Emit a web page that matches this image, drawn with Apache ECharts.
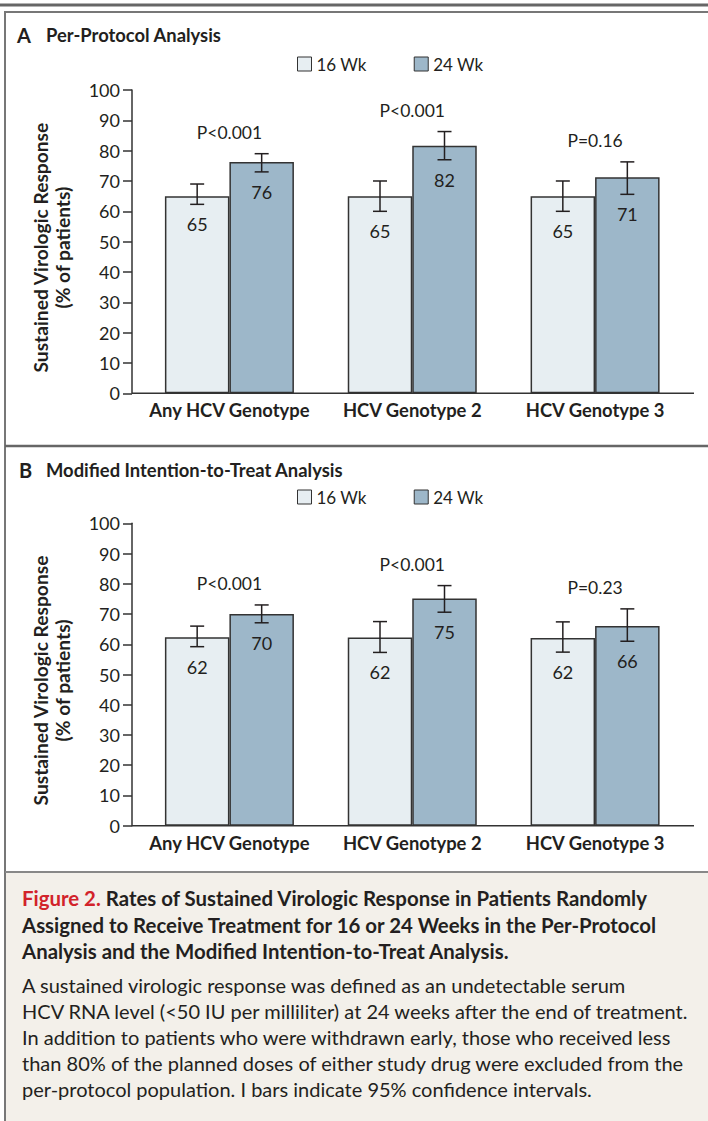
<!DOCTYPE html>
<html>
<head>
<meta charset="utf-8">
<script src="https://cdn.jsdelivr.net/npm/echarts@6/dist/echarts.min.js"></script>
<style>
html,body{margin:0;padding:0;background:#fff;}
#chart{width:708px;height:1121px;}
</style>
</head>
<body>
<div id="chart"></div>
<script>
// ---------- data ----------
const categories = ['Any HCV Genotype', 'HCV Genotype 2', 'HCV Genotype 3'];
const seriesNames = ['16 Wk', '24 Wk'];
const yTicks = [0, 100, 10]; // min, max, interval

// Panel A: per-protocol analysis
const ppWk16 = [65, 65, 65];
const ppWk24 = [76.3, 81.6, 71.2];
const ppLow16 = [62.3, 60, 60];
const ppHigh16 = [69, 70, 70];
const ppLow24 = [73, 77, 65.6];
const ppHigh24 = [79, 86.3, 76.3];
const ppPvals = ['P<0.001', 'P<0.001', 'P=0.16'];

// Panel B: modified intention-to-treat analysis
const mittWk16 = [62.3, 62.2, 62.1];
const mittWk24 = [70, 75.1, 66];
const mittLow16 = [59.2, 57.3, 57.4];
const mittHigh16 = [66, 67.5, 67.4];
const mittLow24 = [67.1, 70.6, 61];
const mittHigh24 = [73, 79.4, 71.7];
const mittPvals = ['P<0.001', 'P<0.001', 'P=0.23'];

const panelTitles = [['A', 'Per-Protocol Analysis'], ['B', 'Modified Intention-to-Treat Analysis']];
const yTitle = ['Sustained Virologic Response', '(% of patients)'];
const captionTitle = [
  ['Figure 2.', 'Rates of Sustained Virologic Response in Patients Randomly'],
  ['', 'Assigned to Receive Treatment for 16 or 24 Weeks in the Per-Protocol'],
  ['', 'Analysis and the Modified Intention-to-Treat Analysis.']
];
const captionBody = [
  'A sustained virologic response was defined as an undetectable serum',
  'HCV RNA level (<50 IU per milliliter) at 24 weeks after the end of treatment.',
  'In addition to patients who were withdrawn early, those who received less',
  'than 80% of the planned doses of either study drug were excluded from the',
  'per-protocol population. I bars indicate 95% confidence intervals.'
];

// ---------- styles ----------
const FONT = 'Lato, "Noto Sans", sans-serif';
const INK = '#231f20';
const AXIS = '#333333';
const C16 = '#e7eef2';
const C24 = '#9db7c9';
const BAR_W = 64.5;
const GRID_L = 138, GRID_W = 548.5;
const grids = [
  { left: GRID_L, top: 90, width: GRID_W, height: 303.3 },
  { left: GRID_L, top: 523.3, width: GRID_W, height: 302.4 }
];

const chart = echarts.init(document.getElementById('chart'), null, { renderer: 'svg' });

function annotSeries(g, v16, v24, lo16, hi16, lo24, hi24, pv) {
  return {
    type: 'custom', xAxisIndex: g, yAxisIndex: g, clip: false, silent: true, z: 10,
    data: categories.map((c, i) => [i, Math.max(hi16[i], hi24[i])]),
    renderItem: function (params, api) {
      const i = api.value(0);
      const kids = [];
      const sets = [[lo16, hi16, v16, -BAR_W / 2], [lo24, hi24, v24, BAR_W / 2]];
      sets.forEach(function (s) {
        const pH = api.coord([i, s[1][i]]);
        const pL = api.coord([i, s[0][i]]);
        const x = pH[0] + s[3];
        const ls = { stroke: INK, lineWidth: 1.5 };
        kids.push({ type: 'line', shape: { x1: x, y1: pH[1], x2: x, y2: pL[1] }, style: ls });
        kids.push({ type: 'line', shape: { x1: x - 7, y1: pH[1], x2: x + 7, y2: pH[1] }, style: ls });
        kids.push({ type: 'line', shape: { x1: x - 7, y1: pL[1], x2: x + 7, y2: pL[1] }, style: ls });
        kids.push({ type: 'text', style: { text: String(Math.round(s[2][i])), x: x, y: pL[1] + 20,
          align: 'center', verticalAlign: 'middle', fontSize: 18, fontFamily: FONT, fill: INK } });
      });
      const pt = api.coord([i, api.value(1)]);
      kids.push({ type: 'text', style: { text: pv[i], x: pt[0], y: pt[1] - 21,
        align: 'center', verticalAlign: 'middle', fontSize: 17.5, fontFamily: FONT, fill: INK } });
      return { type: 'group', children: kids };
    }
  };
}

function barSeries(g, name, vals, color) {
  return {
    type: 'bar', name: name, xAxisIndex: g, yAxisIndex: g, data: vals,
    barWidth: BAR_W, barGap: '0%',
    itemStyle: { color: color, borderColor: AXIS, borderWidth: 1.5 },
    emphasis: { disabled: true }
  };
}

const graphics = [];
// frame
graphics.push({ type: 'line', shape: { x1: 0, y1: 5, x2: 708, y2: 5 }, style: { stroke: '#666', lineWidth: 3 } });
graphics.push({ type: 'line', shape: { x1: 5, y1: 12, x2: 708, y2: 12 }, style: { stroke: '#777', lineWidth: 2 } });
graphics.push({ type: 'line', shape: { x1: 5, y1: 11, x2: 5, y2: 1121 }, style: { stroke: '#777', lineWidth: 2 } });
graphics.push({ type: 'line', shape: { x1: 5, y1: 446, x2: 708, y2: 446 }, style: { stroke: '#666', lineWidth: 2.5 } });
graphics.push({ type: 'rect', shape: { x: 6, y: 872, width: 702, height: 249 }, style: { fill: '#f3f0ea' } });
graphics.push({ type: 'line', shape: { x1: 5, y1: 872, x2: 708, y2: 872 }, style: { stroke: '#888', lineWidth: 2 } });

// panel titles
const titleY = [34.5, 470];
panelTitles.forEach(function (t, k) {
  graphics.push({ type: 'text', style: { text: t[0], x: k === 0 ? 17 : 19, y: titleY[k], verticalAlign: 'middle',
    fontSize: 20, fontWeight: 'bold', fontFamily: FONT, fill: INK } });
  graphics.push({ type: 'text', style: { text: t[1], x: 46, y: titleY[k], verticalAlign: 'middle',
    fontSize: 18.4, fontWeight: 'bold', fontFamily: FONT, fill: INK } });
});

// axis titles and baselines
grids.forEach(function (gr) {
  const cy = gr.top + gr.height / 2 + 6;
  graphics.push({ type: 'text', x: 40, y: cy, rotation: Math.PI / 2,
    style: { text: yTitle[0], x: 0, y: 0, align: 'center', verticalAlign: 'middle',
      fontSize: 19.2, fontWeight: 'bold', fontFamily: FONT, fill: INK } });
  graphics.push({ type: 'text', x: 62, y: cy, rotation: Math.PI / 2,
    style: { text: yTitle[1], x: 0, y: 0, align: 'center', verticalAlign: 'middle',
      fontSize: 19.2, fontWeight: 'bold', fontFamily: FONT, fill: INK } });
  const by = gr.top + gr.height;
  graphics.push({ type: 'line', z: 100, shape: { x1: GRID_L - 6, y1: by, x2: 694, y2: by },
    style: { stroke: AXIS, lineWidth: 1.5 } });
});

// caption
captionTitle.forEach(function (ln, k) {
  const y = 898 + k * 26.5;
  if (ln[0]) {
    graphics.push({ type: 'text', style: { text: '{r|' + ln[0] + '} {b|' + ln[1] + '}', x: 22, y: y, verticalAlign: 'middle',
      fontSize: 20.4, fontWeight: 'bold', fontFamily: FONT, fill: INK,
      rich: { r: { fill: '#d2232a', fontSize: 20.4, fontWeight: 'bold', fontFamily: FONT },
              b: { fill: INK, fontSize: 20.4, fontWeight: 'bold', fontFamily: FONT } } } });
  } else {
    graphics.push({ type: 'text', style: { text: ln[1], x: 22, y: y, verticalAlign: 'middle',
      fontSize: 20.4, fontWeight: 'bold', fontFamily: FONT, fill: INK } });
  }
});
captionBody.forEach(function (ln, k) {
  graphics.push({ type: 'text', style: { text: ln, x: 22, y: 985 + k * 26.1, verticalAlign: 'middle',
    fontSize: 20, fontFamily: FONT, fill: INK } });
});

const option = {
  animation: false,
  backgroundColor: '#ffffff',
  grid: grids,
  legend: [0, 1].map(function (k) {
    return {
      data: seriesNames, left: 297, top: (k === 0 ? 64 : 497) - 8.5, padding: 0,
      itemWidth: 14, itemHeight: 14, itemGap: 47, icon: 'rect', selectedMode: false,
      itemStyle: { borderColor: AXIS, borderWidth: 1 },
      textStyle: { fontSize: 17, fontFamily: FONT, color: INK }
    };
  }),
  xAxis: [0, 1].map(function (k) {
    return {
      type: 'category', gridIndex: k, data: categories,
      axisLine: { show: false }, axisTick: { show: false },
      axisLabel: { interval: 0, hideOverlap: false, margin: 8, fontSize: 18.4, fontWeight: 'bold', fontFamily: FONT, color: INK }
    };
  }),
  yAxis: [0, 1].map(function (k) {
    return {
      type: 'value', gridIndex: k, min: yTicks[0], max: yTicks[1], interval: yTicks[2], offset: 6,
      axisLine: { show: true, lineStyle: { color: AXIS, width: 1.5 } },
      axisTick: { show: true, length: 9, lineStyle: { color: AXIS, width: 1.5 } },
      splitLine: { show: false },
      axisLabel: { margin: 12, fontSize: 18, fontFamily: FONT, color: INK }
    };
  }),
  series: [
    barSeries(0, seriesNames[0], ppWk16, C16),
    barSeries(0, seriesNames[1], ppWk24, C24),
    barSeries(1, seriesNames[0], mittWk16, C16),
    barSeries(1, seriesNames[1], mittWk24, C24),
    annotSeries(0, ppWk16, ppWk24, ppLow16, ppHigh16, ppLow24, ppHigh24, ppPvals),
    annotSeries(1, mittWk16, mittWk24, mittLow16, mittHigh16, mittLow24, mittHigh24, mittPvals)
  ],
  graphic: graphics
};
chart.setOption(option);
</script>
</body>
</html>
